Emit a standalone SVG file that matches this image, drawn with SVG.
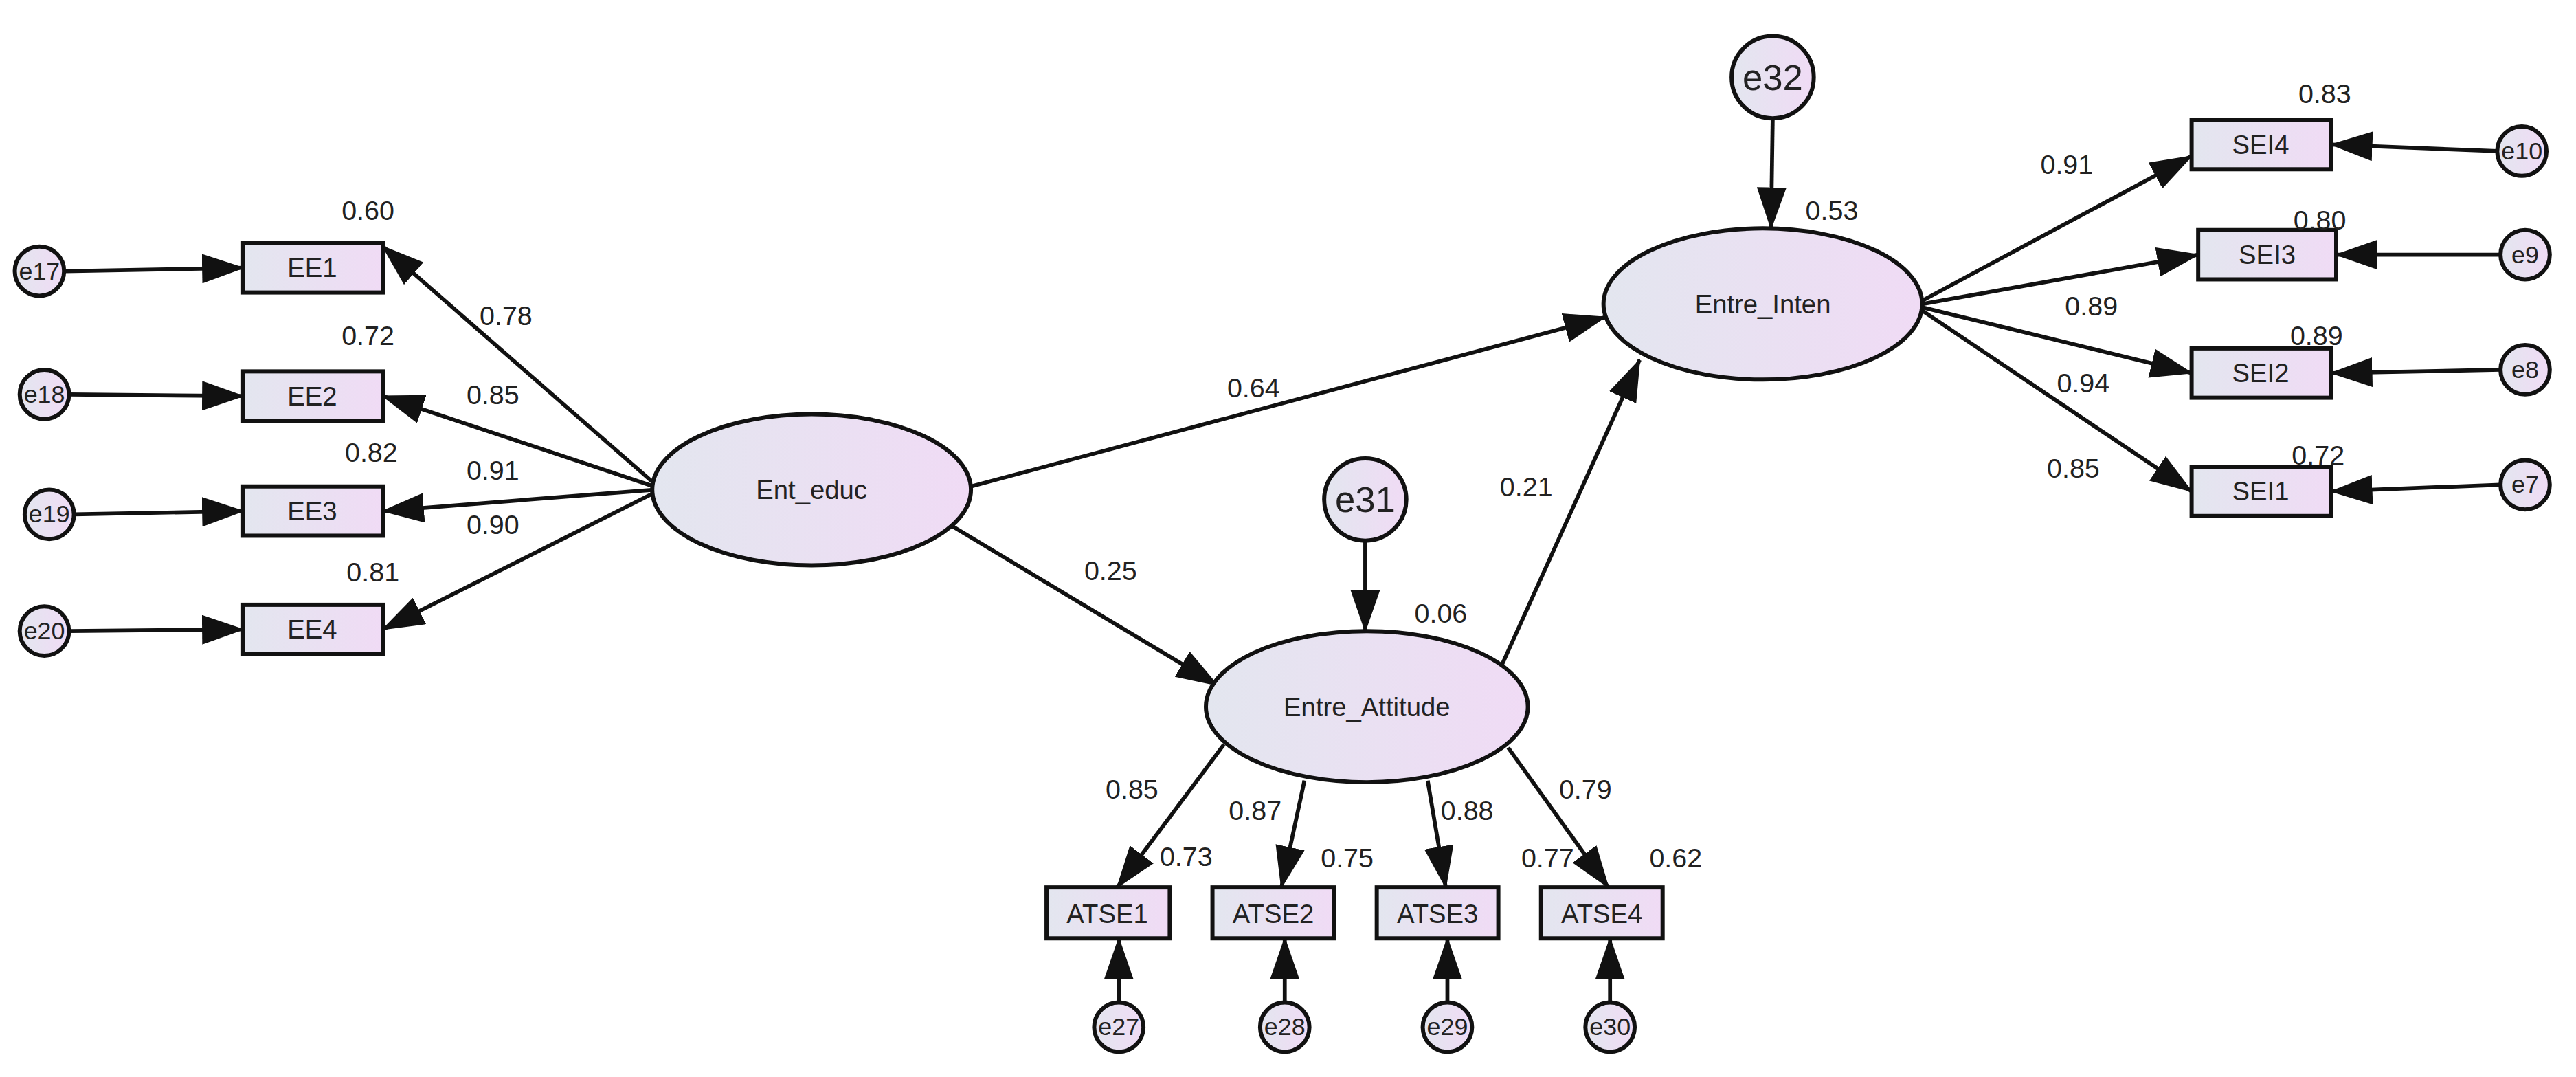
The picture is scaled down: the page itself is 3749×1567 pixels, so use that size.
<svg xmlns="http://www.w3.org/2000/svg" width="3749" height="1567" viewBox="0 0 3749 1567">
<style>
.n{stroke:#111;stroke-width:2.5;fill:url(#gr)}
.c line{stroke:#111;stroke-width:2.4;marker-end:url(#ah)}
text{font-family:"Liberation Sans",Arial,sans-serif;fill:#222}
.t{font-size:16px;text-anchor:middle;dominant-baseline:central}
.s{font-size:15px;text-anchor:middle;dominant-baseline:central}
.v{font-size:16.5px;text-anchor:middle;dominant-baseline:central}
</style>
<defs>
<linearGradient id="gr" x1="0" x2="1" y1="0" y2="0"><stop offset="0" stop-color="#e3e6ef"/><stop offset="1" stop-color="#f0dbf5"/></linearGradient>
<marker id="ah" markerUnits="userSpaceOnUse" markerWidth="26" markerHeight="18" refX="25" refY="9" orient="auto"><path d="M0,0 L26,9 L0,18 Z" fill="#111"/></marker>
</defs>
<rect width="3749" height="1567" fill="#fff"/>
<g transform="scale(2.391)">
<g id="connectors" class="c">
<line x1="39" y1="165" x2="148" y2="163"/>
<line x1="42" y1="240" x2="148" y2="241"/>
<line x1="45" y1="313" x2="148" y2="311"/>
<line x1="42" y1="384" x2="148" y2="383"/>
<line x1="398" y1="294" x2="233" y2="150"/>
<line x1="398" y1="296" x2="233" y2="241"/>
<line x1="398" y1="298" x2="233" y2="311"/>
<line x1="398" y1="300" x2="233" y2="383"/>
<line x1="591" y1="296" x2="977" y2="193"/>
<line x1="566" y1="312" x2="741" y2="417"/>
<line x1="914" y1="405" x2="998" y2="219"/>
<line x1="831" y1="329" x2="831" y2="384"/>
<line x1="1079" y1="72" x2="1078" y2="139"/>
<line x1="1170" y1="183" x2="1334" y2="95"/>
<line x1="1170" y1="185" x2="1338" y2="155"/>
<line x1="1170" y1="187" x2="1334" y2="227"/>
<line x1="1170" y1="189" x2="1334" y2="299"/>
<line x1="1520" y1="92" x2="1419" y2="88"/>
<line x1="1522" y1="155" x2="1422" y2="155"/>
<line x1="1522" y1="225" x2="1419" y2="227"/>
<line x1="1522" y1="295" x2="1419" y2="299"/>
<line x1="745" y1="453" x2="680" y2="540"/>
<line x1="794" y1="475" x2="780" y2="540"/>
<line x1="869" y1="475" x2="880" y2="540"/>
<line x1="918" y1="455" x2="979" y2="540"/>
<line x1="681" y1="610" x2="681" y2="571"/>
<line x1="782" y1="610" x2="782" y2="571"/>
<line x1="881" y1="610" x2="881" y2="571"/>
<line x1="980" y1="610" x2="980" y2="571"/>
</g>
<g id="EE1"><rect class="n" x="148" y="148" width="85" height="30"/><text class="t" x="190" y="163">EE1</text></g>
<g id="EE2"><rect class="n" x="148" y="226" width="85" height="30"/><text class="t" x="190" y="241">EE2</text></g>
<g id="EE3"><rect class="n" x="148" y="296" width="85" height="30"/><text class="t" x="190" y="311">EE3</text></g>
<g id="EE4"><rect class="n" x="148" y="368" width="85" height="30"/><text class="t" x="190" y="383">EE4</text></g>
<g id="e17"><circle class="n" cx="24" cy="165" r="15"/><text class="s" x="24" y="165">e17</text></g>
<g id="e18"><circle class="n" cx="27" cy="240" r="15"/><text class="s" x="27" y="240">e18</text></g>
<g id="e19"><circle class="n" cx="30" cy="313" r="15"/><text class="s" x="30" y="313">e19</text></g>
<g id="e20"><circle class="n" cx="27" cy="384" r="15"/><text class="s" x="27" y="384">e20</text></g>
<g id="Ent_educ"><ellipse class="n" cx="494" cy="298" rx="97" ry="46"/><text class="t" x="494" y="298">Ent_educ</text></g>
<g id="Entre_Inten"><ellipse class="n" cx="1073" cy="185" rx="97" ry="46"/><text class="t" x="1073" y="185">Entre_Inten</text></g>
<g id="Entre_Attitude"><ellipse class="n" cx="832" cy="430" rx="98" ry="46"/><text class="t" x="832" y="430">Entre_Attitude</text></g>
<g id="e32"><circle class="n" cx="1079" cy="47" r="25"/><text class="t" x="1079" y="47" style="font-size:22px">e32</text></g>
<g id="e31"><circle class="n" cx="831" cy="304" r="25"/><text class="t" x="831" y="304" style="font-size:22px">e31</text></g>
<g id="ATSE1"><rect class="n" x="637" y="540" width="75" height="31"/><text class="t" x="674" y="556">ATSE1</text></g>
<g id="ATSE2"><rect class="n" x="738" y="540" width="74" height="31"/><text class="t" x="775" y="556">ATSE2</text></g>
<g id="ATSE3"><rect class="n" x="838" y="540" width="74" height="31"/><text class="t" x="875" y="556">ATSE3</text></g>
<g id="ATSE4"><rect class="n" x="938" y="540" width="74" height="31"/><text class="t" x="975" y="556">ATSE4</text></g>
<g id="e27"><circle class="n" cx="681" cy="625" r="15"/><text class="s" x="681" y="625">e27</text></g>
<g id="e28"><circle class="n" cx="782" cy="625" r="15"/><text class="s" x="782" y="625">e28</text></g>
<g id="e29"><circle class="n" cx="881" cy="625" r="15"/><text class="s" x="881" y="625">e29</text></g>
<g id="e30"><circle class="n" cx="980" cy="625" r="15"/><text class="s" x="980" y="625">e30</text></g>
<g id="SEI4"><rect class="n" x="1334" y="73" width="85" height="30"/><text class="t" x="1376" y="88">SEI4</text></g>
<g id="SEI3"><rect class="n" x="1338" y="140" width="84" height="30"/><text class="t" x="1380" y="155">SEI3</text></g>
<g id="SEI2"><rect class="n" x="1334" y="212" width="85" height="30"/><text class="t" x="1376" y="227">SEI2</text></g>
<g id="SEI1"><rect class="n" x="1334" y="284" width="85" height="30"/><text class="t" x="1376" y="299">SEI1</text></g>
<g id="e10"><circle class="n" cx="1535" cy="92" r="15"/><text class="s" x="1535" y="92">e10</text></g>
<g id="e9"><circle class="n" cx="1537" cy="155" r="15"/><text class="s" x="1537" y="155">e9</text></g>
<g id="e8"><circle class="n" cx="1537" cy="225" r="15"/><text class="s" x="1537" y="225">e8</text></g>
<g id="e7"><circle class="n" cx="1537" cy="295" r="15"/><text class="s" x="1537" y="295">e7</text></g>
<g id="labels">
<text class="v" x="224" y="128">0.60</text><text class="v" x="308" y="192">0.78</text>
<text class="v" x="224" y="204">0.72</text><text class="v" x="300" y="240">0.85</text>
<text class="v" x="226" y="275">0.82</text><text class="v" x="300" y="286">0.91</text>
<text class="v" x="300" y="319">0.90</text><text class="v" x="227" y="348">0.81</text>
<text class="v" x="763" y="236">0.64</text><text class="v" x="676" y="347">0.25</text>
<text class="v" x="929" y="296">0.21</text><text class="v" x="877" y="373">0.06</text>
<text class="v" x="1115" y="128">0.53</text>
<text class="v" x="1258" y="100">0.91</text><text class="v" x="1415" y="57">0.83</text>
<text class="v" x="1412" y="134">0.80</text><text class="v" x="1273" y="186">0.89</text>
<text class="v" x="1410" y="204">0.89</text><text class="v" x="1268" y="233">0.94</text>
<text class="v" x="1262" y="285">0.85</text><text class="v" x="1411" y="277">0.72</text>
<text class="v" x="689" y="480">0.85</text><text class="v" x="722" y="521">0.73</text>
<text class="v" x="764" y="493">0.87</text><text class="v" x="820" y="522">0.75</text>
<text class="v" x="893" y="493">0.88</text><text class="v" x="942" y="522">0.77</text>
<text class="v" x="965" y="480">0.79</text><text class="v" x="1020" y="522">0.62</text>
</g>
</g>
</svg>
